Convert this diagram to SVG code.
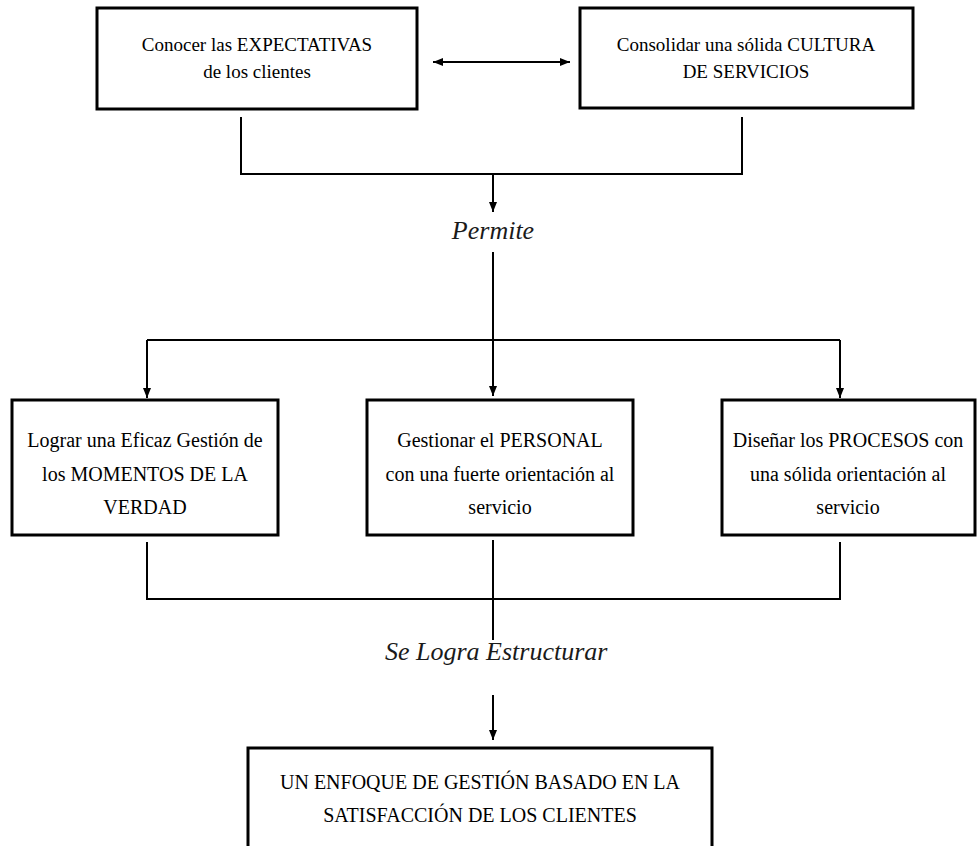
<svg xmlns="http://www.w3.org/2000/svg" width="977" height="846" viewBox="0 0 977 846">
<style>
.box{fill:#fff;stroke:#000;stroke-width:3}
.t{font-family:"Liberation Serif","Times New Roman",serif;font-size:19px;fill:#000;text-anchor:middle}
.m{font-size:20px}
.b{font-size:20px}
.i{font-family:"Liberation Serif","Times New Roman",serif;font-style:italic;font-size:26px;fill:#1a1a1a;text-anchor:middle}
.ln{fill:none;stroke:#000;stroke-width:2}
</style>
<defs>
<marker id="ah" markerUnits="userSpaceOnUse" markerWidth="10" markerHeight="10" viewBox="0 0 10 10" refX="10" refY="5" orient="auto-start-reverse">
<path d="M0,1 L10,5 L0,9 Z" fill="#000"/>
</marker>
</defs>
<rect width="977" height="846" fill="#fff"/>
<g id="connectors">
<line class="ln" x1="433" y1="62" x2="570" y2="62" marker-start="url(#ah)" marker-end="url(#ah)"/>
<polyline class="ln" points="241,117 241,174 742,174 742,117"/>
<line class="ln" x1="493" y1="174" x2="493" y2="212" marker-end="url(#ah)"/>
<line class="ln" x1="493" y1="252" x2="493" y2="340"/>
<line class="ln" x1="147" y1="340" x2="840" y2="340"/>
<polyline class="ln" points="147,340 147,398" marker-end="url(#ah)"/>
<line class="ln" x1="493" y1="340" x2="493" y2="396" marker-end="url(#ah)"/>
<polyline class="ln" points="840,340 840,398" marker-end="url(#ah)"/>
<polyline class="ln" points="147,542 147,599 840,599 840,542"/>
<line class="ln" x1="493" y1="540" x2="493" y2="640"/>
<line class="ln" x1="493" y1="695" x2="493" y2="740" marker-end="url(#ah)"/>
</g>
<g id="n1">
<rect class="box" x="97" y="8" width="320" height="101"/>
<text class="t" x="257" y="51">Conocer las EXPECTATIVAS</text>
<text class="t" x="257" y="78">de los clientes</text>
</g>
<g id="n2">
<rect class="box" x="580" y="8" width="333" height="100"/>
<text class="t" x="746" y="51">Consolidar una sólida CULTURA</text>
<text class="t" x="746" y="78">DE SERVICIOS</text>
</g>
<g id="lbl1">
<text class="i" x="493" y="239">Permite</text>
</g>
<g id="n3">
<rect class="box" x="12" y="400" width="266" height="135"/>
<text class="t m" x="145" y="447">Lograr una Eficaz Gestión de</text>
<text class="t m" x="145" y="481">los MOMENTOS DE LA</text>
<text class="t m" x="145" y="514">VERDAD</text>
</g>
<g id="n4">
<rect class="box" x="367" y="400" width="266" height="135"/>
<text class="t m" x="500" y="447">Gestionar el PERSONAL</text>
<text class="t m" x="500" y="481">con una fuerte orientación al</text>
<text class="t m" x="500" y="514">servicio</text>
</g>
<g id="n5">
<rect class="box" x="722" y="400" width="253" height="135"/>
<text class="t m" x="848" y="447">Diseñar los PROCESOS con</text>
<text class="t m" x="848" y="481">una sólida orientación al</text>
<text class="t m" x="848" y="514">servicio</text>
</g>
<g id="lbl2">
<text class="i" x="385" y="660" style="text-anchor:start">Se Logra Estructurar</text>
</g>
<g id="n6">
<rect class="box" x="248" y="748" width="464" height="120"/>
<text class="t b" x="480" y="789">UN ENFOQUE DE GESTIÓN BASADO EN LA</text>
<text class="t b" x="480" y="822">SATISFACCIÓN DE LOS CLIENTES</text>
</g>
</svg>
